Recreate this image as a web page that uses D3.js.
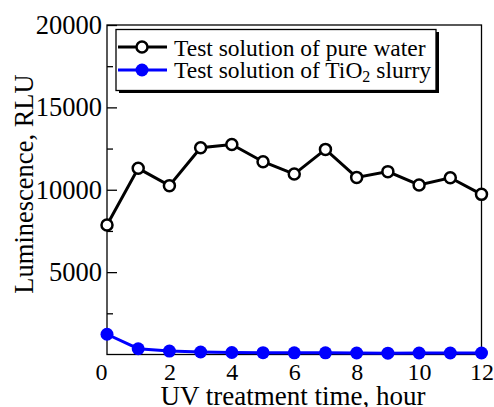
<!DOCTYPE html>
<html>
<head>
<meta charset="utf-8">
<script src="https://cdn.jsdelivr.net/npm/d3@7"></script>
<style>
  body { margin: 0; background: #fff; }
  text { font-family: "Liberation Serif", "Times New Roman", serif; fill: #000; }
</style>
</head>
<body>
<div id="chart"></div>
<script>
// data
var hours = [0, 1, 2, 3, 4, 5, 6, 7, 8, 9, 10, 11, 12];
var pureWater = [7860, 11300, 10250, 12550, 12750, 11700, 10950, 12450, 10750, 11100, 10290, 10730, 9720];
var tio2Slurry = [1230, 350, 210, 150, 120, 110, 100, 100, 90, 80, 90, 90, 90];
var xTicks = [0, 2, 4, 6, 8, 10, 12];
var yTicks = [5000, 10000, 15000, 20000];
var yMinorTicks = [2500, 7500, 12500, 17500];
var seriesNames = ["Test solution of pure water", "Test solution of TiO"];

var svgWidth = 494;
var svgHeight = 407;

var plot = { left: 107, right: 481.5, top: 25, bottom: 354.5 };

var svg = d3.select("#chart")
    .append("svg")
    .attr("width", svgWidth)
    .attr("height", svgHeight);

var x = d3.scaleLinear().domain([0, 12]).range([plot.left, plot.right]);
var y = d3.scaleLinear().domain([0, 20000]).range([plot.bottom, plot.top]);

// frame
svg.append("rect")
    .attr("x", plot.left)
    .attr("y", plot.top)
    .attr("width", plot.right - plot.left)
    .attr("height", plot.bottom - plot.top)
    .attr("fill", "none")
    .attr("stroke", "#000")
    .attr("stroke-width", 1.3);

// y axis, ticks inside
var leftAxis = d3.axisLeft(y)
    .tickValues(yTicks)
    .tickSize(-10)
    .tickPadding(16)
    .tickFormat(d3.format("d"));

var yAxis = svg.append("g")
    .attr("transform", `translate(${plot.left},0)`)
    .call(leftAxis);
yAxis.select(".domain").remove();
yAxis.selectAll(".tick line").attr("stroke-width", 1.3);
yAxis.selectAll("text")
    .attr("font-size", 26.5)
    .attr("font-family", "Liberation Serif")
    .attr("x", -5);

var minorAxis = svg.append("g")
    .attr("transform", `translate(${plot.left},0)`)
    .call(d3.axisLeft(y).tickValues(yMinorTicks).tickSize(-6).tickFormat(""));
minorAxis.select(".domain").remove();
minorAxis.selectAll(".tick line").attr("stroke-width", 1.3);

// x axis labels only
var bottomAxis = d3.axisBottom(x)
    .tickValues(xTicks)
    .tickSize(0)
    .tickPadding(8);

var xAxis = svg.append("g")
    .attr("transform", `translate(0,${plot.bottom})`)
    .call(bottomAxis);
xAxis.select(".domain").remove();
xAxis.selectAll("text")
    .attr("font-size", 24)
    .attr("font-family", "Liberation Serif")
    .attr("dx", d => d === 0 ? -6 : 0);

// axis titles
svg.append("text")
    .attr("x", 293)
    .attr("y", 404.5)
    .attr("text-anchor", "middle")
    .attr("font-size", 27)
    .text("UV treatment time, hour");

svg.append("text")
    .attr("transform", "rotate(-90)")
    .attr("x", -184)
    .attr("y", 33)
    .attr("text-anchor", "middle")
    .attr("font-size", 26.5)
    .text("Luminescence, RLU");

// lines
var line = function(vals) {
    return d3.line()
        .x((d, i) => x(hours[i]))
        .y(d => y(d))(vals);
};

svg.append("path")
    .attr("d", line(tio2Slurry))
    .attr("fill", "none")
    .attr("stroke", "#0000ff")
    .attr("stroke-width", 3);

svg.selectAll(".blue")
    .data(tio2Slurry)
    .enter()
    .append("circle")
    .attr("class", "blue")
    .attr("cx", (d, i) => x(hours[i]))
    .attr("cy", d => y(d))
    .attr("r", 6.5)
    .attr("fill", "#0000ff");

svg.append("path")
    .attr("d", line(pureWater))
    .attr("fill", "none")
    .attr("stroke", "#000")
    .attr("stroke-width", 3);

svg.selectAll(".black")
    .data(pureWater)
    .enter()
    .append("circle")
    .attr("class", "black")
    .attr("cx", (d, i) => x(hours[i]))
    .attr("cy", d => y(d))
    .attr("r", 5.5)
    .attr("fill", "#fff")
    .attr("stroke", "#000")
    .attr("stroke-width", 2.5);

// legend
var legend = svg.append("g");

legend.append("rect")
    .attr("x", 119)
    .attr("y", 32)
    .attr("width", 320)
    .attr("height", 61)
    .attr("fill", "#000");

legend.append("rect")
    .attr("x", 116)
    .attr("y", 29.5)
    .attr("width", 320)
    .attr("height", 61)
    .attr("fill", "#fff")
    .attr("stroke", "#000")
    .attr("stroke-width", 1.3);

var rows = [
    { y: 47, base: 56.3, color: "#000", fill: "#fff", r: 5.5 },
    { y: 70, base: 78, color: "#0000ff", fill: "#0000ff", r: 6.5 }
];

rows.forEach(function(row, i) {
    legend.append("line")
        .attr("x1", 118)
        .attr("x2", 167)
        .attr("y1", row.y)
        .attr("y2", row.y)
        .attr("stroke", row.color)
        .attr("stroke-width", 3);
    legend.append("circle")
        .attr("cx", 142)
        .attr("cy", row.y)
        .attr("r", row.r)
        .attr("fill", row.fill)
        .attr("stroke", i === 0 ? "#000" : "none")
        .attr("stroke-width", 2.5);
    var t = legend.append("text")
        .attr("x", 174)
        .attr("y", row.base)
        .attr("font-size", 23.5)
        .text(seriesNames[i]);
    if (i === 1) {
        t.append("tspan").attr("font-size", 16).attr("dy", 4).text("2");
        t.append("tspan").attr("dy", -4).text(" slurry");
    }
});
</script>
</body>
</html>
